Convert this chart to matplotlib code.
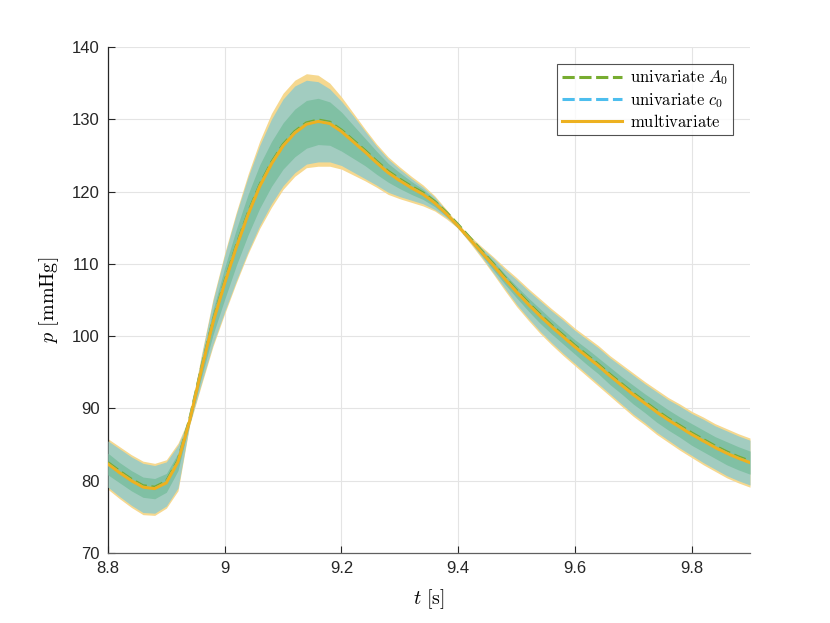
import numpy as np
import matplotlib
matplotlib.use("Agg")
import matplotlib.pyplot as plt

t = [8.80, 8.82, 8.84, 8.86, 8.88, 8.90, 8.92, 8.94, 8.96, 8.98,
     9.00, 9.02, 9.04, 9.06, 9.08, 9.10, 9.12, 9.14, 9.16, 9.18,
     9.20, 9.22, 9.24, 9.26, 9.28, 9.30, 9.32, 9.34, 9.36, 9.38,
     9.40, 9.42, 9.44, 9.46, 9.48, 9.50, 9.52, 9.54, 9.56, 9.58,
     9.60, 9.62, 9.64, 9.66, 9.68, 9.70, 9.72, 9.74, 9.76, 9.78,
     9.80, 9.82, 9.84, 9.86, 9.88, 9.90]

p_mean = [82.3, 81.1, 80.0, 79.1, 78.9, 79.7, 82.6, 88.3, 95.3, 101.9,
          107.3, 112.3, 116.8, 120.7, 123.8, 126.3, 128.1, 129.3, 129.7, 129.4,
          128.3, 126.9, 125.5, 124.0, 122.6, 121.5, 120.5, 119.6, 118.4, 116.9,
          115.2, 113.4, 111.6, 109.8, 107.9, 106.1, 104.4, 102.8, 101.3, 99.9,
          98.5, 97.2, 95.9, 94.5, 93.2, 91.9, 90.7, 89.5, 88.4, 87.4,
          86.4, 85.5, 84.6, 83.8, 83.1, 82.5]

# multivariate band (upper / lower offsets from mean)
multi_up = [3.5, 3.6, 3.6, 3.6, 3.5, 3.2, 2.6, 0.6, 2.1, 3.3,
            4.2, 4.9, 5.6, 6.3, 7.0, 7.3, 7.3, 7.0, 6.4, 5.6,
            4.8, 4.0, 3.2, 2.6, 2.2, 1.9, 1.6, 1.3, 1.0, 0.6,
            0.3, 0.5, 0.8, 1.2, 1.6, 2.0, 2.2, 2.4, 2.5, 2.6,
            2.6, 2.7, 2.8, 2.8, 2.9, 3.0, 3.0, 3.1, 3.1, 3.2,
            3.2, 3.3, 3.3, 3.4, 3.4, 3.4]
multi_lo = [3.5, 3.6, 3.7, 3.8, 3.7, 3.5, 4.0, 0.6, 2.1, 3.3,
            4.2, 4.9, 5.4, 5.8, 6.0, 6.0, 6.0, 6.0, 6.2, 5.9,
            5.2, 4.6, 4.0, 3.4, 3.0, 2.5, 2.0, 1.6, 1.1, 0.7,
            0.3, 0.5, 0.8, 1.2, 1.6, 2.0, 2.2, 2.4, 2.5, 2.6,
            2.6, 2.7, 2.8, 2.8, 2.9, 3.0, 3.0, 3.1, 3.1, 3.2,
            3.2, 3.3, 3.3, 3.4, 3.4, 3.4]

# univariate A0 band (upper / lower offsets)
uniA_up = [3.2, 3.3, 3.3, 3.3, 3.2, 2.9, 2.3, 0.4, 1.8, 3.0,
           3.9, 4.6, 5.2, 5.7, 6.2, 6.5, 6.5, 6.1, 5.5, 4.8,
           4.2, 3.6, 2.9, 2.3, 1.9, 1.6, 1.3, 1.0, 0.8, 0.4,
           0.15, 0.3, 0.6, 1.0, 1.3, 1.7, 1.9, 2.1, 2.2, 2.3,
           2.3, 2.4, 2.5, 2.5, 2.6, 2.7, 2.7, 2.8, 2.8, 2.9,
           2.9, 3.0, 3.0, 3.1, 3.1, 3.1]
uniA_lo = [3.2, 3.3, 3.4, 3.5, 3.4, 3.2, 3.6, 0.4, 1.8, 3.0,
           3.9, 4.6, 5.1, 5.4, 5.5, 5.5, 5.5, 5.5, 5.6, 5.3,
           4.7, 4.2, 3.7, 3.1, 2.7, 2.2, 1.7, 1.3, 0.9, 0.5,
           0.15, 0.3, 0.6, 1.0, 1.3, 1.7, 1.9, 2.1, 2.2, 2.3,
           2.3, 2.4, 2.5, 2.5, 2.6, 2.7, 2.7, 2.8, 2.8, 2.9,
           2.9, 3.0, 3.0, 3.1, 3.1, 3.1]

# univariate c0 band (half width)
uniC_hw = [1.5, 1.4, 1.4, 1.4, 1.4, 1.3, 1.2, 0.2, 1.0, 1.7,
           2.2, 2.5, 2.8, 3.0, 3.1, 3.2, 3.3, 3.3, 3.2, 3.0,
           2.7, 2.3, 1.9, 1.6, 1.3, 1.1, 0.9, 0.7, 0.5, 0.3,
           0.1, 0.2, 0.4, 0.6, 0.7, 0.8, 0.9, 1.0, 1.0, 1.0,
           1.0, 1.1, 1.1, 1.2, 1.2, 1.3, 1.3, 1.4, 1.4, 1.4,
           1.5, 1.5, 1.5, 1.6, 1.6, 1.6]

labels = [r'$\mathrm{univariate}\ A_0$', r'$\mathrm{univariate}\ c_0$', r'$\mathrm{multivariate}$']
xticks = [8.8, 9.0, 9.2, 9.4, 9.6, 9.8]
xticklabels = ['8.8', '9', '9.2', '9.4', '9.6', '9.8']
yticks = [70, 80, 90, 100, 110, 120, 130, 140]

plt.rcParams['mathtext.fontset'] = 'cm'
plt.rcParams['font.family'] = ['Liberation Sans', 'DejaVu Sans']

T = np.array(t)
M = np.array(p_mean)

fig = plt.figure(figsize=(8.3, 6.23), dpi=100)
ax = fig.add_axes([0.1301, 0.1124, 0.7735, 0.8122])

c_yel = '#F6D88F'
c_teal = '#A2CCC0'
c_dark = '#80C0A4'
ax.fill_between(T, M - np.array(multi_lo), M + np.array(multi_up), color=c_yel, lw=0, zorder=2)
ax.fill_between(T, M - np.array(uniA_lo), M + np.array(uniA_up), color=c_teal, lw=0, zorder=3)
ax.fill_between(T, M - np.array(uniC_hw), M + np.array(uniC_hw), color=c_dark, lw=0, zorder=4)

lA, = ax.plot(T, M + 0.2, color='#77AC30', lw=2.2, dashes=(4, 1.5), zorder=5, label=labels[0])
lC, = ax.plot(T, M, color='#4DBEEE', lw=2.2, dashes=(4, 1.5), zorder=5, label=labels[1])
lM, = ax.plot(T, M, color='#EDB120', lw=2.2, zorder=6, label=labels[2])

ax.set_xlim(8.8, 9.9)
ax.set_ylim(70, 140)
ax.set_xticks(xticks)
ax.set_xticklabels(xticklabels)
ax.set_yticks(yticks)
ax.grid(True, color='#e4e4e4', lw=0.8, zorder=0)
ax.set_axisbelow(True)
for s in ['top', 'right']:
    ax.spines[s].set_visible(False)
ax.spines['left'].set_color('#262626')
ax.spines['bottom'].set_color('#606060')
ax.spines['left'].set_linewidth(0.9)
ax.spines['bottom'].set_linewidth(0.9)
ax.tick_params(direction='in', length=5, width=0.8, labelsize=12, colors='#262626', pad=6)

ax.set_xlabel(r'$t\ [\mathrm{s}]$', fontsize=14.5, labelpad=8)
ax.set_ylabel(r'$p\ [\mathrm{mmHg}]$', fontsize=14.5, labelpad=8)

leg = ax.legend(handles=[lA, lC, lM], loc='upper right', fontsize=12,
                frameon=True, fancybox=False, edgecolor='#262626',
                borderaxespad=1.0, handlelength=3.6, handletextpad=0.5,
                borderpad=0.3, labelspacing=0.2)
leg.get_frame().set_linewidth(0.8)

fig.savefig('out.png', dpi=100)
